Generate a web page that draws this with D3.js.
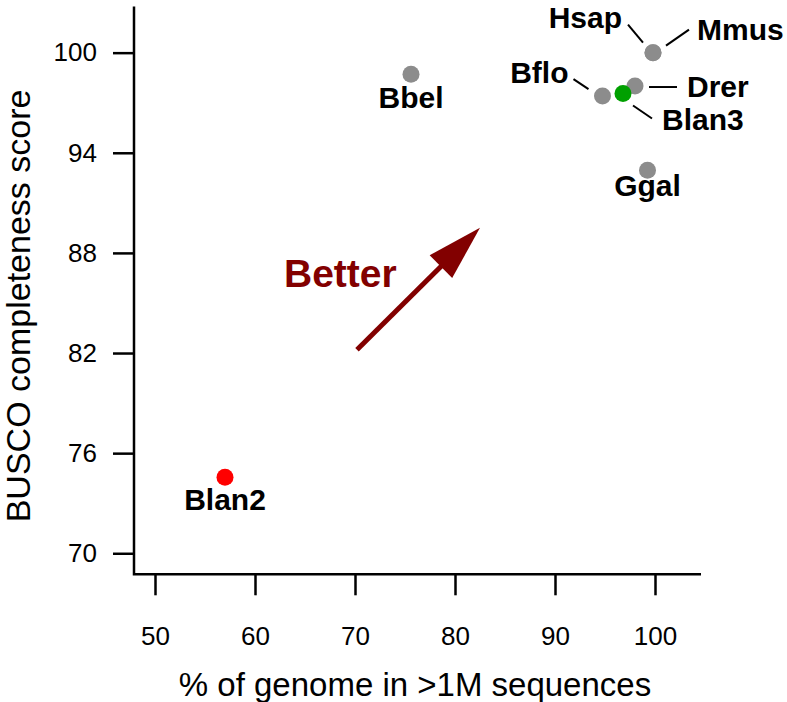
<!DOCTYPE html>
<html>
<head>
<meta charset="utf-8">
<script src="https://cdn.jsdelivr.net/npm/d3@7"></script>
<style>
  body { margin: 0; background: #fff; }
  svg { font-family: "Liberation Sans", Arial, Helvetica, sans-serif; }
</style>
</head>
<body>
<svg id="chart"></svg>
<script>
// species and their values
const species = ["Blan2", "Bbel", "Bflo", "Drer", "Blan3", "Ggal", "Hsap", "Mmus"];
const genomePct = [57.0, 75.6, 94.75, 98.0, 96.8, 99.25, 99.8, 99.8];
const buscoScore = [74.55, 98.7, 97.4, 98.0, 97.55, 92.95, 100, 100];
const dotGroup = ["bad", "other", "other", "other", "good", "other", "other", "other"];

const xTicks = [50, 60, 70, 80, 90, 100];
const yTicks = [70, 76, 82, 88, 94, 100];

// "Better" arrow, in data units
const arrowStart = [70.2, 82.2];
const arrowEnd = [82.5, 89.5];

const width = 787;
const height = 702;

const colorOf = { bad: "#ff0000", good: "#00a000", other: "#8c8c8c" };

// label placement relative to each dot (pixels)
const labelLayout = {
  Blan2: { dx: 0, dy: 33, anchor: "middle" },
  Bbel: { dx: 0, dy: 34, anchor: "middle" },
  Bflo: { dx: -34, dy: -13, anchor: "end", lead: [-29, -17, -14, -7] },
  Drer: { dx: 52, dy: 11, anchor: "start", lead: [14, 1, 42, 1] },
  Blan3: { dx: 39, dy: 36, anchor: "start", lead: [10, 12, 29, 25] },
  Ggal: { dx: 0, dy: 26, anchor: "middle" },
  Hsap: { dx: -31, dy: -25, anchor: "end", lead: [-10, -10, -25, -28] },
  Mmus: { dx: 44, dy: -13, anchor: "start", lead: [13, -7, 36, -23] },
};

let svg = d3.select("#chart").attr("width", width).attr("height", height);

let x = d3.scaleLinear().domain([47.9, 104.6]).range([134, 701]);
let y = d3.scaleLinear().domain([68.74, 102.76]).range([574.3, 6.6]);

// L-shaped frame
svg
  .append("path")
  .attr("d", `M${x.range()[0]},${y.range()[1]}V${y.range()[0]}H${x.range()[1]}`)
  .style("fill", "none")
  .style("stroke", "#000")
  .style("stroke-width", 2.5);

let yAxis = svg
  .append("g")
  .attr("transform", `translate(${x.range()[0]},0)`)
  .call(d3.axisLeft(y).tickValues(yTicks).tickSize(21).tickPadding(16));

let xAxis = svg
  .append("g")
  .attr("transform", `translate(0,${y.range()[0]})`)
  .call(d3.axisBottom(x).tickValues(xTicks).tickSize(21).tickPadding(31));

for (let ax of [xAxis, yAxis]) {
  ax.select(".domain").remove();
  ax.selectAll("line").style("stroke", "#000").style("stroke-width", 2.5);
  ax.selectAll("text")
    .style("font-size", "26px")
    .style("fill", "#000")
    .style("font-family", "Liberation Sans, Arial, sans-serif");
}

svg
  .append("text")
  .attr("x", (x(50) + x(100)) / 2 + 10)
  .attr("y", 696)
  .attr("text-anchor", "middle")
  .style("font-size", "33px")
  .text("% of genome in >1M sequences");

svg
  .append("text")
  .attr("transform", `translate(30,${(y(70) + y(100)) / 2 + 3}) rotate(-90)`)
  .attr("text-anchor", "middle")
  .style("font-size", "34px")
  .text("BUSCO completeness score");

// arrow
let darkRed = "#820000";
let ax0 = x(arrowStart[0]), ay0 = y(arrowStart[1]);
let ax1 = x(arrowEnd[0]), ay1 = y(arrowEnd[1]);
let ang = Math.atan2(ay1 - ay0, ax1 - ax0);
let headLen = 55, headHalf = 16;
let bx = ax1 - headLen * Math.cos(ang), by = ay1 - headLen * Math.sin(ang);

svg
  .append("line")
  .attr("x1", ax0)
  .attr("y1", ay0)
  .attr("x2", bx + 5 * Math.cos(ang))
  .attr("y2", by + 5 * Math.sin(ang))
  .style("stroke", darkRed)
  .style("stroke-width", 5);

svg
  .append("path")
  .attr(
    "d",
    `M${ax1},${ay1}L${bx - headHalf * Math.sin(ang)},${by + headHalf * Math.cos(ang)}` +
      `L${bx + headHalf * Math.sin(ang)},${by - headHalf * Math.cos(ang)}Z`
  )
  .style("fill", darkRed);

svg
  .append("text")
  .attr("x", 284)
  .attr("y", 287)
  .style("font-size", "39px")
  .style("font-weight", "bold")
  .style("fill", darkRed)
  .text("Better");

let pts = species.map((s, i) => ({
  name: s,
  x: genomePct[i],
  y: buscoScore[i],
  group: dotGroup[i],
}));

// leader lines
svg
  .append("g")
  .selectAll("line")
  .data(pts.filter((d) => labelLayout[d.name].lead))
  .join("line")
  .attr("x1", (d) => x(d.x) + labelLayout[d.name].lead[0])
  .attr("y1", (d) => y(d.y) + labelLayout[d.name].lead[1])
  .attr("x2", (d) => x(d.x) + labelLayout[d.name].lead[2])
  .attr("y2", (d) => y(d.y) + labelLayout[d.name].lead[3])
  .style("stroke", "#000")
  .style("stroke-width", 2);

svg
  .append("g")
  .selectAll("circle")
  .data(pts)
  .join("circle")
  .attr("cx", (d) => x(d.x))
  .attr("cy", (d) => y(d.y))
  .attr("r", 8.5)
  .style("fill", (d) => colorOf[d.group]);

svg
  .append("g")
  .selectAll("text")
  .data(pts)
  .join("text")
  .attr("x", (d) => x(d.x) + labelLayout[d.name].dx)
  .attr("y", (d) => y(d.y) + labelLayout[d.name].dy)
  .attr("text-anchor", (d) => labelLayout[d.name].anchor)
  .style("font-size", "30px")
  .style("font-weight", "bold")
  .text((d) => d.name);
</script>
</body>
</html>
